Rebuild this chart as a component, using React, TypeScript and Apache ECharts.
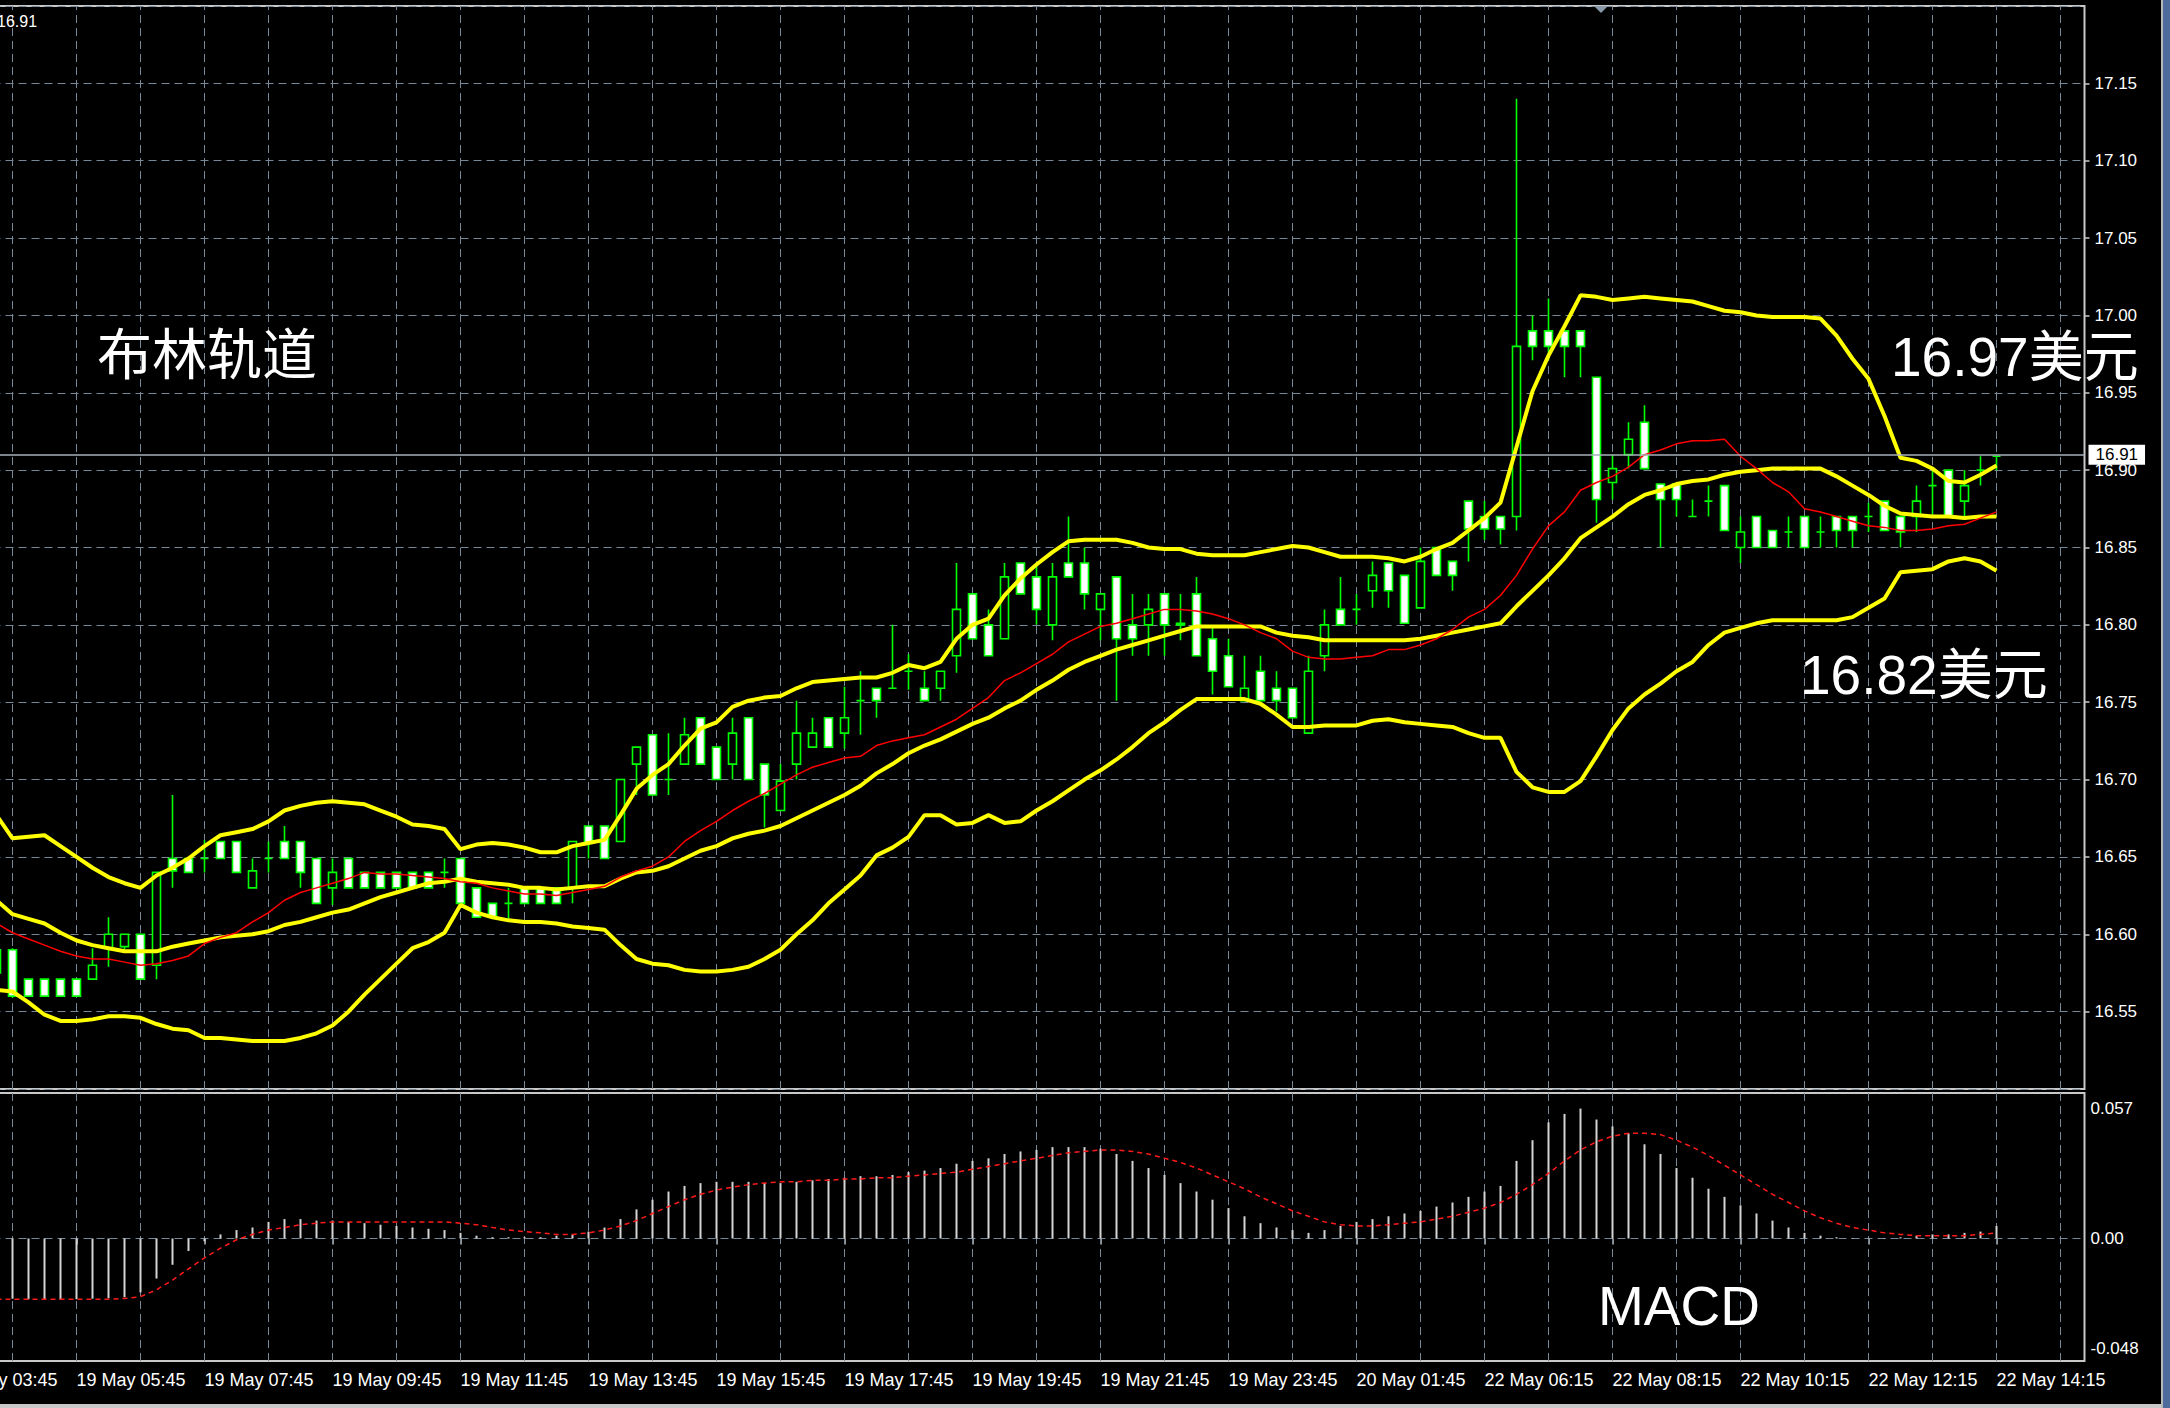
import React, { useEffect, useRef } from 'react';
import * as echarts from 'echarts';

// ---------- data (bar n = 0 … 125, 15-minute bars) ----------
const timeLabels = [
  '19 May 03:45', '19 May 05:45', '19 May 07:45', '19 May 09:45', '19 May 11:45',
  '19 May 13:45', '19 May 15:45', '19 May 17:45', '19 May 19:45', '19 May 21:45',
  '19 May 23:45', '20 May 01:45', '22 May 06:15', '22 May 08:15', '22 May 10:15',
  '22 May 12:15', '22 May 14:15',
];
const timeLabelBars = [-3, 5, 13, 21, 29, 37, 45, 53, 61, 69, 77, 85, 93, 101, 109, 117, 125];

const priceTicks = { min: 16.5, max: 17.2, step: 0.05 };
const macdRange = { min: -0.048, max: 0.057 };
const lastPrice = 16.91;

const opens = [
  16.590, 16.590, 16.571, 16.571, 16.571, 16.571, 16.571, 16.591, 16.592, 16.600,
  16.580, 16.649, 16.649, 16.649, 16.660, 16.660, 16.630, 16.649, 16.660, 16.660,
  16.649, 16.630, 16.649, 16.640, 16.640, 16.640, 16.640, 16.640, 16.640, 16.649,
  16.630, 16.620, 16.620, 16.630, 16.630, 16.630, 16.630, 16.670, 16.670, 16.660,
  16.710, 16.729, 16.700, 16.710, 16.740, 16.721, 16.710, 16.740, 16.710, 16.680,
  16.710, 16.721, 16.740, 16.730, 16.751, 16.759, 16.759, 16.770, 16.759, 16.759,
  16.780, 16.820, 16.800, 16.791, 16.840, 16.831, 16.800, 16.840, 16.840, 16.810,
  16.831, 16.800, 16.800, 16.820, 16.800, 16.820, 16.791, 16.780, 16.751, 16.770,
  16.759, 16.759, 16.730, 16.780, 16.810, 16.810, 16.822, 16.840, 16.832, 16.811,
  16.850, 16.841, 16.880, 16.870, 16.870, 16.870, 16.990, 16.990, 16.990, 16.990,
  16.960, 16.892, 16.910, 16.931, 16.891, 16.891, 16.870, 16.880, 16.890, 16.850,
  16.870, 16.861, 16.860, 16.870, 16.860, 16.870, 16.870, 16.870, 16.880, 16.870,
  16.870, 16.890, 16.900, 16.880, 16.900, 16.909,
];
const closes = [
  16.575, 16.560, 16.560, 16.560, 16.560, 16.560, 16.580, 16.600, 16.600, 16.571,
  16.640, 16.641, 16.640, 16.649, 16.649, 16.640, 16.641, 16.649, 16.649, 16.640,
  16.620, 16.640, 16.630, 16.630, 16.630, 16.630, 16.630, 16.630, 16.640, 16.620,
  16.611, 16.611, 16.620, 16.620, 16.620, 16.620, 16.660, 16.659, 16.649, 16.700,
  16.721, 16.690, 16.700, 16.729, 16.710, 16.700, 16.730, 16.700, 16.690, 16.699,
  16.730, 16.730, 16.721, 16.740, 16.751, 16.751, 16.759, 16.770, 16.751, 16.770,
  16.810, 16.791, 16.780, 16.831, 16.820, 16.810, 16.831, 16.831, 16.820, 16.820,
  16.791, 16.791, 16.810, 16.800, 16.801, 16.780, 16.770, 16.760, 16.759, 16.751,
  16.751, 16.740, 16.770, 16.800, 16.800, 16.810, 16.832, 16.822, 16.801, 16.841,
  16.832, 16.832, 16.862, 16.862, 16.862, 16.980, 16.980, 16.980, 16.980, 16.980,
  16.881, 16.901, 16.920, 16.901, 16.881, 16.881, 16.870, 16.880, 16.861, 16.860,
  16.850, 16.850, 16.860, 16.850, 16.860, 16.861, 16.861, 16.870, 16.861, 16.860,
  16.880, 16.890, 16.870, 16.890, 16.900, 16.909,
];
const lows = [
  16.570, 16.559, 16.560, 16.560, 16.560, 16.560, 16.571, 16.579, 16.590, 16.571,
  16.571, 16.630, 16.640, 16.640, 16.649, 16.640, 16.630, 16.640, 16.649, 16.630,
  16.620, 16.619, 16.630, 16.630, 16.630, 16.630, 16.630, 16.630, 16.630, 16.620,
  16.611, 16.611, 16.610, 16.620, 16.620, 16.620, 16.620, 16.649, 16.649, 16.660,
  16.690, 16.690, 16.690, 16.710, 16.710, 16.700, 16.700, 16.700, 16.669, 16.680,
  16.700, 16.721, 16.721, 16.720, 16.729, 16.740, 16.759, 16.758, 16.751, 16.751,
  16.769, 16.791, 16.780, 16.791, 16.820, 16.800, 16.790, 16.831, 16.810, 16.790,
  16.751, 16.780, 16.780, 16.780, 16.790, 16.780, 16.755, 16.760, 16.751, 16.751,
  16.744, 16.740, 16.730, 16.770, 16.800, 16.800, 16.811, 16.811, 16.801, 16.811,
  16.832, 16.822, 16.841, 16.855, 16.852, 16.861, 16.971, 16.971, 16.960, 16.960,
  16.866, 16.881, 16.901, 16.901, 16.850, 16.870, 16.870, 16.870, 16.861, 16.840,
  16.850, 16.850, 16.850, 16.850, 16.850, 16.850, 16.850, 16.860, 16.861, 16.850,
  16.860, 16.870, 16.870, 16.870, 16.890, 16.900,
];
const highs = [
  16.595, 16.591, 16.571, 16.571, 16.571, 16.571, 16.591, 16.611, 16.600, 16.600,
  16.640, 16.690, 16.650, 16.661, 16.660, 16.660, 16.649, 16.660, 16.670, 16.660,
  16.649, 16.649, 16.649, 16.640, 16.640, 16.640, 16.640, 16.640, 16.649, 16.649,
  16.630, 16.620, 16.630, 16.630, 16.630, 16.630, 16.660, 16.670, 16.670, 16.700,
  16.721, 16.729, 16.730, 16.740, 16.740, 16.721, 16.740, 16.740, 16.710, 16.710,
  16.751, 16.740, 16.740, 16.760, 16.770, 16.759, 16.800, 16.781, 16.770, 16.770,
  16.840, 16.820, 16.810, 16.840, 16.840, 16.840, 16.840, 16.870, 16.850, 16.820,
  16.831, 16.820, 16.820, 16.820, 16.820, 16.831, 16.798, 16.791, 16.780, 16.780,
  16.770, 16.759, 16.780, 16.810, 16.831, 16.820, 16.841, 16.840, 16.832, 16.850,
  16.850, 16.841, 16.880, 16.880, 16.870, 17.140, 17.000, 17.011, 16.990, 16.990,
  16.960, 16.910, 16.931, 16.942, 16.891, 16.891, 16.881, 16.890, 16.890, 16.870,
  16.870, 16.861, 16.870, 16.870, 16.870, 16.870, 16.870, 16.879, 16.880, 16.870,
  16.890, 16.900, 16.900, 16.900, 16.909, 16.909,
];

const upperBand = [
  16.677, 16.662, 16.663, 16.664, 16.657, 16.650, 16.643, 16.637, 16.633, 16.630,
  16.638, 16.643, 16.649, 16.657, 16.664, 16.666, 16.668, 16.673, 16.680, 16.683,
  16.685, 16.686, 16.685, 16.684, 16.680, 16.676, 16.671, 16.670, 16.668, 16.655,
  16.658, 16.659, 16.658, 16.656, 16.653, 16.653, 16.657, 16.659, 16.661, 16.677,
  16.694, 16.703, 16.710, 16.722, 16.733, 16.737, 16.747, 16.751, 16.753, 16.754,
  16.759, 16.763, 16.764, 16.765, 16.766, 16.766, 16.769, 16.774, 16.772, 16.776,
  16.791, 16.800, 16.804, 16.819, 16.830, 16.839, 16.847, 16.854, 16.855, 16.855,
  16.855, 16.853, 16.850, 16.849, 16.849, 16.846, 16.845, 16.845, 16.845, 16.847,
  16.849, 16.851, 16.850, 16.847, 16.844, 16.844, 16.844, 16.843, 16.841, 16.844,
  16.849, 16.853, 16.861, 16.869, 16.879, 16.915, 16.951, 16.974, 16.993, 17.013,
  17.012, 17.010, 17.011, 17.012, 17.011, 17.010, 17.009, 17.006, 17.003, 17.002,
  17.000, 16.999, 16.999, 16.999, 16.998, 16.987, 16.972, 16.959, 16.935, 16.908,
  16.906, 16.901, 16.893, 16.892, 16.897, 16.903,
];
const middleBand = [
  16.622, 16.613, 16.610, 16.607, 16.601, 16.596, 16.593, 16.591, 16.589, 16.589,
  16.589, 16.592, 16.594, 16.596, 16.598, 16.599, 16.600, 16.602, 16.606, 16.608,
  16.611, 16.614, 16.616, 16.620, 16.624, 16.627, 16.630, 16.633, 16.634, 16.636,
  16.634, 16.633, 16.632, 16.630, 16.630, 16.629, 16.630, 16.631, 16.631, 16.636,
  16.640, 16.641, 16.644, 16.649, 16.654, 16.657, 16.662, 16.665, 16.667, 16.670,
  16.675, 16.680, 16.685, 16.690, 16.696, 16.704, 16.710, 16.717, 16.722, 16.726,
  16.731, 16.736, 16.740, 16.746, 16.751, 16.758, 16.764, 16.771, 16.776, 16.780,
  16.784, 16.787, 16.790, 16.793, 16.796, 16.799, 16.799, 16.799, 16.799, 16.799,
  16.795, 16.793, 16.792, 16.790, 16.790, 16.790, 16.790, 16.790, 16.790, 16.791,
  16.793, 16.795, 16.797, 16.799, 16.801, 16.812, 16.822, 16.832, 16.843, 16.856,
  16.863, 16.870, 16.878, 16.884, 16.887, 16.891, 16.893, 16.894, 16.897, 16.899,
  16.900, 16.901, 16.901, 16.901, 16.901, 16.896, 16.890, 16.884, 16.877, 16.872,
  16.871, 16.870, 16.870, 16.869, 16.870, 16.870,
];
const lowerBand = [
  16.564, 16.563, 16.556, 16.548, 16.544, 16.544, 16.545, 16.547, 16.547, 16.546,
  16.542, 16.539, 16.538, 16.533, 16.533, 16.532, 16.531, 16.531, 16.531, 16.533,
  16.536, 16.541, 16.550, 16.561, 16.571, 16.581, 16.591, 16.595, 16.601, 16.619,
  16.614, 16.611, 16.609, 16.608, 16.608, 16.607, 16.605, 16.604, 16.603, 16.593,
  16.584, 16.581, 16.580, 16.577, 16.576, 16.576, 16.577, 16.579, 16.584, 16.590,
  16.600, 16.609, 16.620, 16.629, 16.638, 16.651, 16.656, 16.663, 16.677, 16.677,
  16.671, 16.672, 16.677, 16.672, 16.673, 16.680, 16.686, 16.693, 16.700, 16.706,
  16.713, 16.721, 16.730, 16.737, 16.745, 16.752, 16.752, 16.752, 16.752, 16.749,
  16.742, 16.734, 16.734, 16.735, 16.735, 16.735, 16.738, 16.739, 16.737, 16.736,
  16.735, 16.734, 16.730, 16.727, 16.727, 16.705, 16.695, 16.692, 16.692, 16.699,
  16.715, 16.732, 16.746, 16.755, 16.762, 16.770, 16.776, 16.787, 16.795, 16.798,
  16.801, 16.803, 16.803, 16.803, 16.803, 16.803, 16.805, 16.811, 16.817, 16.834,
  16.835, 16.836, 16.841, 16.843, 16.841, 16.835,
];
const movingAverage = [
  16.607, 16.601, 16.597, 16.593, 16.589, 16.586, 16.584, 16.584, 16.582, 16.580,
  16.581, 16.583, 16.586, 16.594, 16.598, 16.601, 16.608, 16.614, 16.622, 16.627,
  16.630, 16.633, 16.636, 16.640, 16.639, 16.639, 16.638, 16.637, 16.636, 16.634,
  16.633, 16.630, 16.628, 16.626, 16.626, 16.625, 16.627, 16.629, 16.631, 16.637,
  16.641, 16.644, 16.650, 16.660, 16.667, 16.673, 16.680, 16.686, 16.691, 16.697,
  16.703, 16.708, 16.711, 16.714, 16.715, 16.722, 16.725, 16.727, 16.729, 16.734,
  16.739, 16.746, 16.753, 16.764, 16.769, 16.775, 16.781, 16.789, 16.794, 16.799,
  16.801, 16.804, 16.807, 16.810, 16.810, 16.809, 16.807, 16.804, 16.800, 16.795,
  16.791, 16.783, 16.779, 16.778, 16.778, 16.779, 16.780, 16.784, 16.784, 16.787,
  16.791, 16.797, 16.805, 16.810, 16.819, 16.832, 16.849, 16.864, 16.873, 16.887,
  16.892, 16.896, 16.902, 16.910, 16.913, 16.917, 16.919, 16.919, 16.920, 16.909,
  16.901, 16.892, 16.886, 16.875, 16.873, 16.870, 16.867, 16.864, 16.863, 16.861,
  16.861, 16.862, 16.864, 16.865, 16.869, 16.873,
];

const macdHist = [
  -0.0232, -0.0236, -0.0238, -0.0240, -0.0240, -0.0238, -0.0236, -0.0234, -0.0230, -0.0211,
  -0.0157, -0.0103, -0.0049, -0.0011, 0.0016, 0.0033, 0.0043, 0.0065, 0.0076, 0.0076,
  0.0070, 0.0070, 0.0065, 0.0060, 0.0054, 0.0049, 0.0043, 0.0038, 0.0033, 0.0022,
  0.0011, 0.0005, 0.0005, 0.0005, 0.0005, 0.0011, 0.0016, 0.0027, 0.0043, 0.0076,
  0.0114, 0.0152, 0.0184, 0.0206, 0.0217, 0.0222, 0.0222, 0.0222, 0.0217, 0.0217,
  0.0222, 0.0228, 0.0233, 0.0238, 0.0244, 0.0244, 0.0249, 0.0260, 0.0266, 0.0276,
  0.0293, 0.0304, 0.0314, 0.0331, 0.0341, 0.0347, 0.0358, 0.0358, 0.0358, 0.0352,
  0.0331, 0.0304, 0.0276, 0.0249, 0.0217, 0.0184, 0.0152, 0.0119, 0.0087, 0.0060,
  0.0043, 0.0033, 0.0022, 0.0033, 0.0049, 0.0065, 0.0076, 0.0087, 0.0098, 0.0108,
  0.0125, 0.0141, 0.0163, 0.0184, 0.0206, 0.0304, 0.0385, 0.0455, 0.0488, 0.0509,
  0.0466, 0.0439, 0.0412, 0.0369, 0.0331, 0.0276, 0.0238, 0.0195, 0.0163, 0.0130,
  0.0098, 0.0070, 0.0043, 0.0022, 0.0011, 0.0005, 0.0002, 0.0001, 0.0002, 0.0005,
  0.0011, 0.0016, 0.0016, 0.0022, 0.0027, 0.0049,
];
const macdSignal = [
  -0.0238, -0.0238, -0.0238, -0.0238, -0.0238, -0.0238, -0.0238, -0.0238, -0.0235, -0.0228,
  -0.0201, -0.0163, -0.0119, -0.0076, -0.0038, -0.0005, 0.0016, 0.0033, 0.0043, 0.0054,
  0.0060, 0.0065, 0.0065, 0.0065, 0.0065, 0.0065, 0.0065, 0.0065, 0.0065, 0.0060,
  0.0054, 0.0043, 0.0033, 0.0027, 0.0022, 0.0016, 0.0016, 0.0022, 0.0033, 0.0049,
  0.0070, 0.0098, 0.0125, 0.0152, 0.0173, 0.0190, 0.0201, 0.0211, 0.0217, 0.0222,
  0.0222, 0.0228, 0.0228, 0.0233, 0.0233, 0.0238, 0.0238, 0.0244, 0.0249, 0.0255,
  0.0260, 0.0271, 0.0282, 0.0293, 0.0304, 0.0314, 0.0325, 0.0336, 0.0341, 0.0347,
  0.0347, 0.0341, 0.0331, 0.0314, 0.0298, 0.0276, 0.0249, 0.0222, 0.0195, 0.0163,
  0.0136, 0.0108, 0.0087, 0.0065, 0.0054, 0.0049, 0.0049, 0.0054, 0.0060, 0.0065,
  0.0076, 0.0087, 0.0103, 0.0119, 0.0141, 0.0173, 0.0211, 0.0255, 0.0304, 0.0347,
  0.0379, 0.0401, 0.0412, 0.0412, 0.0407, 0.0385, 0.0358, 0.0325, 0.0287, 0.0249,
  0.0211, 0.0173, 0.0141, 0.0108, 0.0081, 0.0060, 0.0043, 0.0033, 0.0022, 0.0016,
  0.0011, 0.0011, 0.0011, 0.0011, 0.0016, 0.0022,
];

// ---------- layout ----------
const BAR_OFFSET = 3; // slots before bar 0 (room for the 19 May 03:45 label)
const SLOT_COUNT = 134; // bar -3 … bar 130
const FONT = "'Liberation Sans', Arial, sans-serif";
const BIG_FONT = "'Liberation Sans', 'Noto Sans CJK SC', sans-serif";
const GRID_COLOR = '#778899';
const BORDER = '#c8c8c8';

export default function App() {
  const ref = useRef<HTMLDivElement>(null);

  useEffect(() => {
    if (!ref.current) return;
    const chart = echarts.init(ref.current, undefined, { renderer: 'svg' });

    const cats = Array.from({ length: SLOT_COUNT }, (_, i) => String(i - BAR_OFFSET));
    const pad = (arr: number[]) =>
      cats.map((_, i) => {
        const n = i - BAR_OFFSET;
        return n >= 0 && n < arr.length ? arr[n] : '-';
      });
    const candleData = cats.map((_, i) => {
      const n = i - BAR_OFFSET;
      return n >= 0 && n < opens.length
        ? [opens[n], closes[n], lows[n], highs[n]]
        : ['-', '-', '-', '-'];
    });
    const labelAt = new Map<number, string>();
    timeLabelBars.forEach((b, k) => labelAt.set(b + BAR_OFFSET, timeLabels[k]));
    const showLabel = (index: number) => labelAt.has(index);
    const gridCats = cats.filter((c) => (Number(c) + BAR_OFFSET) % 4 === 0);

    const dashed = { color: GRID_COLOR, type: [8, 5] as any, width: 1 };
    const vGrid = gridCats.map((c) => ({ xAxis: c }));

    const bandLine = (name: string, data: number[]) => ({
      type: 'line',
      name,
      xAxisIndex: 0,
      yAxisIndex: 0,
      data: pad(data),
      showSymbol: false,
      symbol: 'none',
      silent: true,
      z: 3,
      lineStyle: { color: '#ffff00', width: 4 },
    });

    chart.setOption({
      animation: false,
      backgroundColor: '#000000',
      grid: [
        {
          left: -59.5, right: 85.5, top: 6, height: 1083,
          show: true, borderColor: BORDER, borderWidth: 2, backgroundColor: 'transparent',
          outerBoundsMode: 'none',
        },
        {
          left: -59.5, right: 85.5, top: 1093, height: 268,
          show: true, borderColor: BORDER, borderWidth: 2, backgroundColor: 'transparent',
          outerBoundsMode: 'none',
        },
      ],
      xAxis: [
        {
          type: 'category', gridIndex: 0, data: cats, boundaryGap: true, show: false,
        },
        {
          type: 'category', gridIndex: 1, data: cats, boundaryGap: true,
          axisLine: { show: false },
          axisTick: {
            show: true, alignWithLabel: true, interval: (i: number) => showLabel(i),
            length: 6, lineStyle: { color: BORDER, width: 1.5 },
          },
          axisLabel: {
            show: true, interval: (i: number) => showLabel(i),
            formatter: (_v: string, i: number) => labelAt.get(i) ?? '',
            align: 'left', color: '#ffffff', fontSize: 18, fontFamily: FONT, margin: 10,
          },
          splitLine: { show: false },
        },
      ],
      yAxis: [
        {
          type: 'value', gridIndex: 0, position: 'right',
          min: priceTicks.min, max: priceTicks.max, interval: priceTicks.step,
          axisLine: { show: false },
          axisTick: { show: true, length: 5, lineStyle: { color: BORDER, width: 1.5 } },
          axisLabel: {
            color: '#ffffff', fontSize: 17, fontFamily: FONT, margin: 10,
            showMinLabel: false, showMaxLabel: false,
            formatter: (v: number) => v.toFixed(2),
          },
          splitLine: { show: true, lineStyle: dashed },
        },
        {
          type: 'value', gridIndex: 1, position: 'right',
          min: macdRange.min, max: macdRange.max, interval: -macdRange.min,
          axisLine: { show: false },
          axisTick: { show: false },
          splitLine: { show: false },
          axisLabel: {
            color: '#ffffff', fontSize: 17, fontFamily: FONT, margin: 6,
            formatter: (v: number) => {
              if (Math.abs(v - macdRange.max) < 1e-7) return '{top|' + macdRange.max.toFixed(3) + '}';
              if (Math.abs(v - macdRange.min) < 1e-7) return '{bot|' + macdRange.min.toFixed(3) + '}';
              if (Math.abs(v) < 1e-7) return '0.00';
              return '';
            },
            rich: {
              top: { padding: [30, 0, 0, 0], color: '#ffffff', fontSize: 17, fontFamily: FONT },
              bot: { padding: [0, 0, 26, 0], color: '#ffffff', fontSize: 17, fontFamily: FONT },
            },
          },
        },
      ],
      series: [
        {
          type: 'candlestick',
          name: 'XAGUSD',
          xAxisIndex: 0,
          yAxisIndex: 0,
          data: candleData,
          barWidth: 8,
          silent: true,
          z: 2,
          itemStyle: {
            color: '#000000',
            color0: '#ffffff',
            borderColor: '#00ff00',
            borderColor0: '#00ff00',
            borderWidth: 1.6,
          },
          markLine: {
            silent: true,
            symbol: ['none', 'none'],
            z: 1,
            animation: false,
            label: { show: false },
            lineStyle: dashed,
            data: vGrid,
          },
        },
        bandLine('upper', upperBand),
        bandLine('middle', middleBand),
        bandLine('lower', lowerBand),
        {
          type: 'line',
          name: 'ma',
          xAxisIndex: 0,
          yAxisIndex: 0,
          data: pad(movingAverage),
          showSymbol: false,
          symbol: 'none',
          silent: true,
          z: 4,
          lineStyle: { color: '#ff0000', width: 1.5 },
          markLine: {
            silent: true,
            symbol: ['none', 'none'],
            z: 6,
            animation: false,
            data: [
              {
                yAxis: lastPrice,
                lineStyle: { color: '#a7b1bb', width: 1.5, type: 'solid' },
                label: {
                  show: true, position: 'end', distance: 4, formatter: lastPrice.toFixed(2),
                  color: '#000000', backgroundColor: '#ffffff', padding: [2, 7, 1, 7],
                  fontSize: 17, fontFamily: FONT,
                },
              },
            ],
          },
        },
        {
          type: 'bar',
          name: 'MACD',
          xAxisIndex: 1,
          yAxisIndex: 1,
          data: pad(macdHist),
          barWidth: 2,
          silent: true,
          z: 2,
          itemStyle: { color: '#d4d4d4' },
          markLine: {
            silent: true,
            symbol: ['none', 'none'],
            z: 1,
            animation: false,
            label: { show: false },
            lineStyle: dashed,
            data: [...vGrid, { yAxis: 0 }],
          },
        },
        {
          type: 'line',
          name: 'signal',
          xAxisIndex: 1,
          yAxisIndex: 1,
          data: pad(macdSignal),
          showSymbol: false,
          symbol: 'none',
          silent: true,
          z: 3,
          lineStyle: { color: '#ff1a1a', width: 1.5, type: [5, 4] },
        },
      ],
      graphic: [
        {
          type: 'text', x: 97, y: 355, z: 20,
          style: { text: '布林轨道', fill: '#ffffff', fontSize: 55, fontFamily: BIG_FONT, verticalAlign: 'middle' },
        },
        {
          type: 'text', x: 1891, y: 357, z: 20,
          style: { text: '16.97美元', fill: '#ffffff', fontSize: 55, fontFamily: BIG_FONT, verticalAlign: 'middle' },
        },
        {
          type: 'text', x: 1800, y: 675, z: 20,
          style: { text: '16.82美元', fill: '#ffffff', fontSize: 55, fontFamily: BIG_FONT, verticalAlign: 'middle' },
        },
        {
          type: 'text', x: 1598, y: 1306, z: 20,
          style: { text: 'MACD', fill: '#ffffff', fontSize: 55, fontFamily: BIG_FONT, verticalAlign: 'middle' },
        },
        {
          type: 'text', x: -3, y: 21, z: 20,
          style: { text: '16.91', fill: '#ffffff', fontSize: 16, fontFamily: FONT, verticalAlign: 'middle' },
        },
        {
          type: 'polygon', z: 20,
          shape: { points: [[1594, 6], [1608, 6], [1601, 13]] },
          style: { fill: '#8a99a8' },
        },
        {
          type: 'rect', z: 20,
          shape: { x: 2161, y: 0, width: 2, height: 1408 },
          style: { fill: '#b8b8b8' },
        },
        {
          type: 'rect', z: 20,
          shape: { x: 2163, y: 0, width: 7, height: 1408 },
          style: { fill: '#4d6c9c' },
        },
        {
          type: 'rect', z: 20,
          shape: { x: 0, y: 1404, width: 2161, height: 4 },
          style: { fill: '#c8c8c8' },
        },
      ],
    });

    return () => chart.dispose();
  }, []);

  return (
    <div
      ref={ref}
      style={{ position: 'fixed', left: 0, top: 0, width: 2170, height: 1408, background: '#000' }}
    />
  );
}
